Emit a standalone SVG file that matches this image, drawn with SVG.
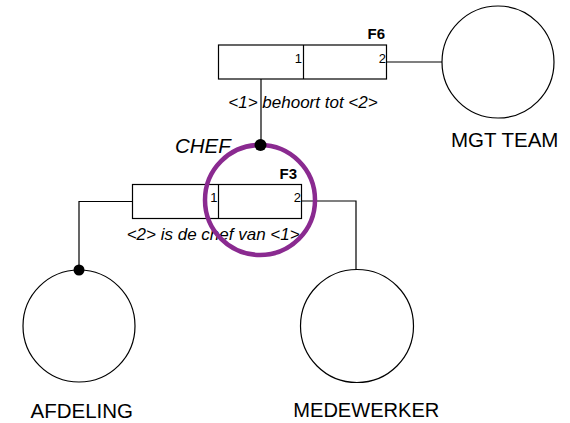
<svg xmlns="http://www.w3.org/2000/svg" width="570" height="423" viewBox="0 0 570 423">
<style>
.ln{fill:none;stroke:#000;stroke-width:1.2}
.box{fill:#fff;stroke:#000;stroke-width:1.2}
.ent{fill:#fff;stroke:#000;stroke-width:1.2}
.dot{fill:#000}
.t{font-family:"Liberation Sans",Arial,Helvetica,sans-serif;fill:#000}
.lbl{font-size:20.5px}
.it{font-style:italic;font-size:17px}
.num{font-size:13px}
.fid{font-size:15px;font-weight:bold}
</style>
<rect width="570" height="423" fill="#fff"/>
<g id="connectors">
<path class="ln" d="M386.5,62 H442"/>
<path class="ln" d="M261,79 V145"/>
<path class="ln" d="M132.5,201.5 H79 V270"/>
<path class="ln" d="M301.5,201 H356 V270"/>
</g>
<g id="F6">
<rect class="box" x="218.5" y="45" width="168" height="34"/>
<line class="ln" x1="303.5" y1="45" x2="303.5" y2="79"/>
<text class="t fid" x="385" y="38.5" text-anchor="end">F6</text>
<text class="t num" x="302" y="63" text-anchor="end">1</text>
<text class="t num" x="386" y="63" text-anchor="end">2</text>
<text class="t it" x="303" y="108" text-anchor="middle">&lt;1&gt; behoort tot &lt;2&gt;</text>
</g>
<g id="F3">
<rect class="box" x="132.5" y="184.5" width="169" height="34"/>
<line class="ln" x1="218.5" y1="184.5" x2="218.5" y2="218.5"/>
<text class="t fid" x="297" y="179" text-anchor="end">F3</text>
<text class="t num" x="217.5" y="202" text-anchor="end">1</text>
<text class="t num" x="301" y="202" text-anchor="end">2</text>
<text class="t it" x="126.7" y="240">&lt;2&gt; is de chef van &lt;1&gt;</text>
</g>
<g id="MGT_TEAM">
<circle class="ent" cx="498" cy="62" r="56"/>
<text class="t lbl" x="451" y="146.5">MGT TEAM</text>
</g>
<g id="AFDELING">
<circle class="ent" cx="79" cy="326" r="56"/>
<circle class="dot" cx="79" cy="270" r="5.5"/>
<text class="t lbl" x="30.5" y="418">AFDELING</text>
</g>
<g id="MEDEWERKER">
<circle class="ent" cx="357" cy="326" r="56.5"/>
<text class="t lbl" x="293.3" y="416.5" textLength="146" lengthAdjust="spacingAndGlyphs">MEDEWERKER</text>
</g>
<g id="CHEF">
<text class="t lbl" x="175" y="153" font-style="italic">CHEF</text>
<circle cx="260" cy="200" r="55" fill="none" stroke="#8a2a90" stroke-width="4.5"/>
<circle class="dot" cx="260.5" cy="145" r="6"/>
</g>
</svg>
